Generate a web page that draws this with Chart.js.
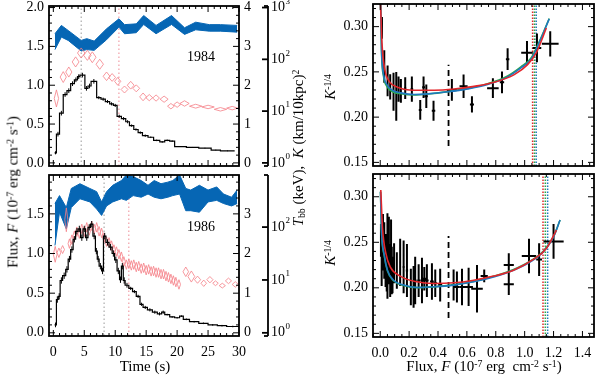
<!DOCTYPE html>
<html>
<head>
<meta charset="utf-8">
<script src="https://cdn.jsdelivr.net/npm/chart.js@4.4.1/dist/chart.umd.min.js"></script>
<style>
body{margin:0;background:#fff;}
#fig{position:relative;width:599px;height:375px;overflow:hidden;font-family:"Liberation Serif","Times New Roman",serif;color:#000;}
#fig canvas{position:absolute;left:0;top:0;}
.t{position:absolute;white-space:nowrap;font-size:15px;line-height:1;}
.v{transform:translate(-50%,-50%) rotate(-90deg);}
.h{transform:translate(-50%,-50%);}
sup{font-size:65%;position:relative;top:-0.45em;vertical-align:baseline;}
sub{font-size:65%;position:relative;top:0.25em;vertical-align:baseline;}
</style>
</head>
<body>
<div id="fig">
<canvas id="c84" width="599" height="375"></canvas>
<canvas id="c86" width="599" height="375"></canvas>
<canvas id="k84" width="599" height="375"></canvas>
<canvas id="k86" width="599" height="375"></canvas>
<div class="t v" style="left:13px;top:192px">Flux, <i>F</i> (10<sup>-7</sup> erg cm<sup>-2</sup> s<sup>-1</sup>)</div>
<div class="t v" style="left:298px;top:148px"><i>T</i><sub>bb</sub> (keV),&nbsp; <i>K</i> (km/10kpc)<sup>2</sup></div>
<div class="t h" style="left:201px;top:57px;font-size:14px">1984</div>
<div class="t h" style="left:201px;top:227px;font-size:14px">1986</div>
<div class="t h" style="left:145px;top:366px">Time (s)</div>
<div class="t h" style="left:484px;top:366px">Flux, <i>F</i> (10<sup>-7</sup> erg&nbsp; cm<sup>-2</sup> s<sup>-1</sup>)</div>
<div class="t v" style="left:330px;top:87px"><i>K</i><sup>-1/4</sup></div>
<div class="t v" style="left:330px;top:253px"><i>K</i><sup>-1/4</sup></div>
</div>
<script>
// 1984 burst: light curve bins (start time, s) and flux (1e-7 erg/cm2/s)
var t84 = [0.2,0.5,1.0,1.6,2.2,2.8,3.4,3.9,4.3,5.1,5.6,6.1,7.0,7.7,8.4,9.1,9.7,10.3,11.0,11.7,12.3,13.0,13.7,14.4,15.3,16.2,17.2,18.0,18.8,19.6,21.5,23.5,25.5,27.0];
var flux84 = [0.13,0.37,0.64,0.88,0.93,1.02,1.07,1.11,1.13,0.96,0.99,1.05,0.84,0.82,0.79,0.76,0.74,0.60,0.57,0.53,0.48,0.43,0.39,0.35,0.33,0.29,0.27,0.29,0.28,0.21,0.20,0.19,0.165,0.155];
var fluxErr84 = [0.02,0.03,0.03,0.03,0.03,0.03,0.03,0.03,0.03,0.03,0.03,0.03,0.02,0.02,0.02,0.02,0.02,0.02,0.02,0.02,0.015,0.015,0.015,0.015,0.01,0.01,0.01,0.01,0.01,0.005,0.005,0.005,0.005,0.005];
var tEnd84 = 29.3;

// 1984 blackbody temperature (keV), half bin width (s), half error (keV)
var tT84 = [0.5,1.6,2.5,3.6,4.5,5.5,6.3,7.5,8.6,9.5,10.4,11.5,12.5,13.4,14.5,15.5,16.6,17.9,19.0,20.0,21.2,23.0,25.0,27.0,28.9];
var T84 = [1.66,2.21,2.34,2.60,2.83,2.77,2.72,2.54,2.23,2.20,2.10,1.89,2.00,1.92,1.70,1.68,1.67,1.64,1.46,1.50,1.53,1.46,1.44,1.38,1.41];
var dtT84 = [0.35,0.5,0.5,0.55,0.6,0.6,0.6,0.6,0.55,0.55,0.5,0.55,0.55,0.55,0.55,0.55,0.55,0.65,0.55,0.55,0.75,1.0,1.0,1.0,0.9];
var dT84 = [0.22,0.14,0.13,0.13,0.13,0.13,0.14,0.13,0.11,0.1,0.1,0.09,0.1,0.09,0.1,0.08,0.08,0.08,0.07,0.07,0.07,0.05,0.045,0.045,0.045];

// 1984 normalisation K (km/10kpc)^2, lower and upper edge of band
var tK84 = [0.26,1.3,2.4,4.5,5.4,6.6,8.6,10.6,11.5,13.4,14.6,16.6,19.1,21.2,23.0,25.2,27.0,29.7];
var K84lo = [154,269,232,145,154,149,239,419,312,327,471,312,471,303,372,350,350,335];
var K84hi = [312,452,361,232,251,225,389,606,468,484,701,452,701,407,522,468,468,452];

// 1986 burst
var t86 = [0.2,0.5,0.8,1.1,1.5,2.0,2.4,2.8,3.2,3.6,4.0,4.4,4.8,5.2,5.6,6.0,6.4,6.8,7.1,7.4,7.8,8.1,8.5,9.0,9.5,9.9,10.3,10.7,11.0,11.3,11.6,12.2,12.8,13.4,14.0,14.5,15.2,16.0,16.8,17.5,18.0,18.8,19.6,20.4,21.0,22.0,23.5,25.0,26.5,28.0];
var flux86 = [0.10,0.42,0.46,0.66,0.72,0.80,0.93,1.05,1.18,1.28,1.31,1.20,1.31,1.20,1.33,1.37,1.22,1.03,0.93,0.84,0.78,1.22,1.14,1.08,1.00,0.92,0.78,0.67,0.84,0.66,0.60,0.56,0.52,0.46,0.36,0.32,0.29,0.26,0.24,0.26,0.23,0.20,0.19,0.21,0.17,0.14,0.12,0.10,0.09,0.08];
var fluxErr86 = [0.03,0.04,0.04,0.04,0.04,0.04,0.04,0.04,0.04,0.04,0.04,0.04,0.04,0.04,0.04,0.04,0.04,0.04,0.04,0.04,0.04,0.04,0.04,0.04,0.04,0.04,0.04,0.04,0.04,0.04,0.03,0.02,0.02,0.02,0.02,0.02,0.02,0.02,0.02,0.02,0.01,0.01,0.01,0.01,0.01,0.01,0.01,0.01,0.01,0.01];
var tEnd86 = 30.0;

var tT86 = [0.3,0.9,1.5,2.1,2.6,3.0,3.4,3.8,4.2,4.6,5.0,5.4,5.8,6.2,6.6,7.0,7.4,7.8,8.2,8.6,9.0,9.4,9.8,10.2,10.6,11.0,11.4,11.8,12.2,12.6,13.0,13.4,13.8,14.2,14.6,15.0,15.4,15.8,16.2,16.6,17.0,17.4,17.8,18.2,18.6,19.0,19.4,19.8,20.3,21.4,22.3,23.3,24.3,25.3,26.2,27.3,28.3,29.4];
var T86 = [1.98,2.02,2.10,2.85,2.25,2.35,2.45,2.55,2.50,2.62,2.55,2.66,2.58,2.70,2.62,2.66,2.56,2.52,2.40,2.30,2.28,2.20,2.10,2.05,1.98,1.92,1.80,1.72,1.74,1.70,1.72,1.66,1.68,1.62,1.64,1.58,1.60,1.55,1.56,1.52,1.52,1.48,1.48,1.43,1.40,1.36,1.32,1.28,1.22,1.54,1.42,1.34,1.25,1.34,1.25,1.19,1.31,1.22];
var dtT86 = [0.3,0.3,0.3,0.25,0.22,0.22,0.22,0.22,0.22,0.22,0.22,0.22,0.22,0.22,0.22,0.22,0.22,0.22,0.22,0.22,0.22,0.22,0.22,0.22,0.22,0.22,0.22,0.22,0.22,0.22,0.22,0.22,0.22,0.22,0.22,0.22,0.22,0.22,0.22,0.22,0.22,0.22,0.22,0.22,0.22,0.22,0.22,0.22,0.25,0.45,0.55,0.5,0.45,0.5,0.45,0.5,0.5,0.5];
var dT86 = [0.2,0.12,0.1,0.3,0.12,0.12,0.12,0.12,0.12,0.12,0.12,0.12,0.12,0.12,0.12,0.12,0.12,0.12,0.12,0.12,0.12,0.12,0.12,0.12,0.12,0.12,0.12,0.12,0.12,0.12,0.12,0.12,0.12,0.12,0.12,0.12,0.12,0.12,0.12,0.12,0.12,0.12,0.12,0.12,0.12,0.12,0.12,0.12,0.12,0.12,0.14,0.09,0.08,0.08,0.06,0.06,0.07,0.07];

var tK86 = [0.26,1.0,2.1,2.9,4.3,5.9,7.0,7.8,8.6,9.6,11.0,11.8,12.9,14.2,15.3,16.3,17.4,18.5,19.3,20.4,21.4,22.2,23.6,25.0,26.4,27.5,28.8,29.7];
var K86lo = [45,191,92,234,343,299,219,166,251,299,343,320,394,367,422,367,343,367,394,422,204,204,191,299,320,279,251,279];
var K86hi = [279,394,234,537,661,537,468,299,468,617,759,966,902,759,617,759,661,708,759,966,537,501,617,501,575,422,367,501];

// marker times (s)
var mark84 = [4.5, 10.6];
var mark86 = [8.2, 12.2];

// K^-1/4 versus flux, 1984
var P84F = [0.012,0.028,0.051,0.069,0.092,0.111,0.127,0.143,0.173,0.219,0.277,0.300,0.319,0.369,0.496,0.577,0.635,0.780,0.843,0.882,1.016,1.085,1.177];
var P84K = [0.2985,0.256,0.240,0.2335,0.228,0.223,0.231,0.229,0.232,0.231,0.208,0.233,0.223,0.207,0.230,0.234,0.214,0.232,0.2385,0.264,0.271,0.2765,0.281];
var P84dK = [0.012,0.018,0.017,0.014,0.021,0.027,0.014,0.013,0.012,0.014,0.011,0.012,0.013,0.011,0.012,0.013,0.009,0.011,0.012,0.012,0.013,0.016,0.014];
var P84dF = [0.003,0.004,0.004,0.005,0.005,0.006,0.006,0.007,0.008,0.009,0.010,0.010,0.011,0.012,0.035,0.028,0.014,0.040,0.015,0.012,0.040,0.030,0.058];

var blue84F = [0.003,0.009,0.023,0.046,0.085,0.143,0.235,0.328,0.467,0.605,0.743,0.882,0.974,1.043,1.10,1.17];
var blue84 = [0.326,0.2746,0.247,0.236,0.2297,0.2268,0.225,0.2257,0.228,0.2312,0.236,0.2445,0.2544,0.2636,0.282,0.3085];
var green84 = [0.326,0.272,0.245,0.234,0.228,0.2258,0.2245,0.2255,0.2282,0.2318,0.2368,0.2455,0.2555,0.265,0.283,0.309];
var red84F = [0.002,0.012,0.032,0.062,0.12,0.235,0.374,0.51,0.65,0.79,0.928,1.02,1.08,1.15];
var red84 = [0.326,0.282,0.2525,0.2396,0.233,0.2297,0.2297,0.231,0.234,0.2385,0.247,0.258,0.271,0.2985];
var touch84 = [1.055, 1.068, 1.08];   // red, green, blue

// K^-1/4 versus flux, 1986
var P86F = [0.005,0.010,0.019,0.028,0.037,0.045,0.050,0.060,0.069,0.075,0.080,0.085,0.096,0.115,0.138,0.162,0.185,0.212,0.231,0.242,0.266,0.289,0.305,0.323,0.358,0.381,0.415,0.508,0.531,0.566,0.612,0.670,0.720,0.890,0.890,1.030,1.100,1.200];
var P86K = [0.252,0.232,0.250,0.241,0.230,0.226,0.235,0.241,0.219,0.240,0.219,0.214,0.227,0.219,0.228,0.223,0.219,0.201,0.201,0.208,0.208,0.208,0.210,0.208,0.207,0.205,0.203,0.203,0.201,0.201,0.201,0.199,0.213,0.225,0.204,0.235,0.231,0.251];
var P86dK = [0.018,0.030,0.031,0.031,0.029,0.030,0.047,0.037,0.029,0.035,0.026,0.020,0.022,0.020,0.026,0.029,0.029,0.020,0.023,0.026,0.018,0.025,0.013,0.018,0.020,0.015,0.018,0.017,0.017,0.020,0.021,0.026,0.007,0.013,0.012,0.019,0.018,0.019];
var P86dF = [0.003,0.003,0.004,0.004,0.004,0.004,0.005,0.005,0.005,0.005,0.005,0.005,0.006,0.006,0.007,0.008,0.008,0.009,0.010,0.010,0.010,0.011,0.011,0.012,0.013,0.013,0.014,0.016,0.016,0.018,0.030,0.040,0.025,0.035,0.035,0.050,0.020,0.070];

var blue86F = [0.002,0.009,0.028,0.05,0.092,0.162,0.254,0.369,0.508,0.647,0.785,0.923,1.04,1.13,1.2,1.245];
var blue86 = [0.3055,0.2634,0.236,0.2194,0.2084,0.203,0.2004,0.2011,0.203,0.2066,0.212,0.2194,0.2286,0.2396,0.256,0.2744];
var green86 = [0.3055,0.262,0.235,0.2185,0.2078,0.2026,0.2002,0.201,0.2032,0.207,0.2126,0.2202,0.2296,0.2405,0.2565,0.2745];
var red86F = [0.004,0.016,0.039,0.069,0.138,0.254,0.369,0.508,0.647,0.785,0.923,1.06,1.15,1.22];
var red86 = [0.3074,0.2653,0.2378,0.2231,0.2129,0.2066,0.2048,0.2055,0.2084,0.2129,0.2194,0.2312,0.2433,0.2634];
var touch86 = [1.127, 1.143, 1.159];

var halfF = 0.473;   // dashed marker

var RED = '#e3262b', GREEN = '#2ba84a', BLUE = '#1f78bf', BAND = '#0666b4', PINK = '#f57f86';

// ---- helpers turning the arrays into point lists
function pairs(x, y) { return x.map(function (v, i) { return {x: v, y: y[i]}; }); }
function steps(t, f, tEnd) {
  var d = pairs(t, f);
  d.push({x: tEnd, y: f[f.length - 1]});
  return d;
}
function errBars(t, f, e, tEnd) {
  var d = [];
  for (var i = 0; i < t.length; i++) {
    var c = (t[i] + (i + 1 < t.length ? t[i + 1] : tEnd)) / 2;
    d.push({x: c, y: f[i] - e[i]}, {x: c, y: f[i] + e[i]}, {x: c, y: null});
  }
  return d;
}
function diamonds(t, T, dt, dT) {
  var d = [];
  for (var i = 0; i < t.length; i++) {
    d.push({x: t[i] - dt[i], y: T[i]}, {x: t[i], y: T[i] + dT[i]}, {x: t[i] + dt[i], y: T[i]},
           {x: t[i], y: T[i] - dT[i]}, {x: t[i] - dt[i], y: T[i]}, {x: t[i], y: null});
  }
  return d;
}
function crosses(F, K, dF, dK) {
  var d = [];
  for (var i = 0; i < F.length; i++) {
    d.push({x: F[i], y: K[i] - dK[i]}, {x: F[i], y: K[i] + dK[i]}, {x: F[i], y: null},
           {x: F[i] - dF[i], y: K[i]}, {x: F[i] + dF[i], y: K[i]}, {x: F[i], y: null});
  }
  return d;
}
function vline(x, y0, y1) { return [{x: x, y: y0}, {x: x, y: y1}]; }

// ---- IDL-like frame: inward ticks on all sides, labels, separate log axis
var idlAxes = {
  id: 'idlAxes',
  afterDraw: function (chart, args, o) {
    var ctx = chart.ctx, a = chart.chartArea;
    function seg(x1, y1, x2, y2) { ctx.beginPath(); ctx.moveTo(x1, y1); ctx.lineTo(x2, y2); ctx.stroke(); }
    function vals(min, max, step) {
      var out = [];
      for (var i = Math.ceil(min / step - 1e-6); i * step <= max + 1e-9; i++) out.push(+(i * step).toFixed(6));
      return out;
    }
    function isMaj(v, m) { return Math.abs(v / m - Math.round(v / m)) < 1e-6; }
    ctx.save();
    ctx.strokeStyle = '#000'; ctx.fillStyle = '#000';
    ctx.lineWidth = 1.8;
    ctx.strokeRect(a.left, a.top, a.right - a.left, a.bottom - a.top);
    ctx.lineWidth = 1;
    ctx.font = '14px "Liberation Serif"';

    var sx = chart.scales.x;
    vals(sx.min, sx.max, o.x.minor).forEach(function (v) {
      var p = sx.getPixelForValue(v), L = isMaj(v, o.x.major) ? 6 : 3;
      seg(p, a.bottom, p, a.bottom - L); seg(p, a.top, p, a.top + L);
    });
    if (o.x.labels) {
      ctx.textAlign = 'center'; ctx.textBaseline = 'middle';
      o.x.labels.forEach(function (v) { ctx.fillText(v.toFixed(o.x.dec), sx.getPixelForValue(v), a.bottom + 16); });
    }

    var sy = chart.scales.y;
    vals(sy.min, sy.max, o.y.minor).forEach(function (v) {
      var p = sy.getPixelForValue(v), L = isMaj(v, o.y.major) ? 6 : 3;
      seg(a.left, p, a.left + L, p);
      if (!o.r) seg(a.right, p, a.right - L, p);
    });
    ctx.textAlign = 'right'; ctx.textBaseline = 'middle';
    o.y.labels.forEach(function (v) { ctx.fillText(v.toFixed(o.y.dec), a.left - 5, sy.getPixelForValue(v)); });

    if (o.r) {
      var sr = chart.scales.yT;
      vals(sr.min, sr.max, o.r.minor).forEach(function (v) {
        var p = sr.getPixelForValue(v), L = isMaj(v, o.r.major) ? 6 : 3;
        seg(a.right, p, a.right - L, p);
      });
      ctx.textAlign = 'left';
      o.r.labels.forEach(function (v) { ctx.fillText(String(v), a.right + 5, sr.getPixelForValue(v)); });
    }
    if (o.k) {
      var sk = chart.scales.yK, x = o.k.x;
      ctx.lineWidth = 1.8;
      seg(x, a.top, x, a.bottom);
      seg(x - 4, a.top, x, a.top); seg(x - 4, a.bottom, x, a.bottom);
      o.k.decades.forEach(function (n) {
        var p = sk.getPixelForValue(Math.pow(10, n));
        seg(x - 6, p, x, p);
        ctx.font = '14px "Liberation Serif"'; ctx.textAlign = 'left'; ctx.textBaseline = 'middle';
        ctx.fillText('10', x + 3, p);
        var w = ctx.measureText('10').width;
        ctx.font = '9px "Liberation Serif"';
        ctx.fillText(String(n), x + 3 + w + 0.5, p - 6);
      });
    }
    ctx.restore();
  }
};
Chart.register(idlAxes);

function baseOpts(pad, scales, axes) {
  return {
    responsive: false, animation: false, events: [],
    layout: {padding: pad},
    plugins: {legend: {display: false}, tooltip: {enabled: false}, idlAxes: axes},
    scales: scales,
    elements: {point: {radius: 0}, line: {tension: 0}}
  };
}

var tMin = -0.7, tMax = 30;

function lightCurve(id, pad, uMin, uMax, d, axes) {
  var scales = {
    x: {type: 'linear', min: tMin, max: tMax, display: false},
    y: {type: 'linear', min: uMin, max: uMax, display: false},
    yT: {type: 'linear', position: 'right', min: 2 * uMin, max: 2 * uMax, display: false},
    yK: {type: 'logarithmic', position: 'right', min: Math.pow(10, 1.5 * uMin), max: Math.pow(10, 1.5 * uMax), display: false}
  };
  var ds = [
    {data: steps(d.t, d.f, d.tEnd), yAxisID: 'y', borderColor: '#000', borderWidth: 1.2, stepped: true, order: 0},
    {data: errBars(d.t, d.f, d.e, d.tEnd), yAxisID: 'y', borderColor: '#000', borderWidth: 1, order: 1},
    {data: diamonds(d.tT, d.T, d.dt, d.dT), yAxisID: 'yT', borderColor: PINK, borderWidth: 0.8, order: 2},
    {data: pairs(d.tK, d.Klo), yAxisID: 'yK', borderColor: BAND, borderWidth: 1, order: 3},
    {data: pairs(d.tK, d.Khi), yAxisID: 'yK', borderColor: BAND, borderWidth: 1, backgroundColor: BAND, fill: '-1', order: 3},
    {data: vline(d.mark[0], uMin, uMax), yAxisID: 'y', borderColor: '#999', borderWidth: 1, borderDash: [1.5, 2.5], order: 5},
    {data: vline(d.mark[1], uMin, uMax), yAxisID: 'y', borderColor: '#ee8a94', borderWidth: 1, borderDash: [1.5, 2.5], order: 5}
  ];
  new Chart(document.getElementById(id), {type: 'line', data: {datasets: ds}, options: baseOpts(pad, scales, axes)});
}

function kPanel(id, pad, d, axes) {
  var scales = {
    x: {type: 'linear', min: -0.05, max: 1.48, display: false},
    y: {type: 'linear', min: 0.146, max: 0.325, display: false}
  };
  var mono = {cubicInterpolationMode: 'monotone', borderWidth: 1.6};
  var ds = [
    Object.assign({data: pairs(d.rF, d.red), borderColor: RED, order: 1}, mono),
    Object.assign({data: pairs(d.bF, d.blue), borderColor: BLUE, order: 2}, mono),
    Object.assign({data: pairs(d.bF, d.green), borderColor: GREEN, order: 3}, mono),
    {data: crosses(d.F, d.K, d.dF, d.dK), borderColor: '#000', borderWidth: 2, order: 4},
    {data: vline(halfF, d.dash[0], d.dash[1]), borderColor: '#000', borderWidth: 1.8, borderDash: [6, 4], order: 5},
    {data: vline(d.touch[0], 0.146, 0.325), borderColor: RED, borderWidth: 1.5, borderDash: [1.5, 1.5], order: 6},
    {data: vline(d.touch[1], 0.146, 0.325), borderColor: GREEN, borderWidth: 1.5, borderDash: [1.5, 1.5], order: 6},
    {data: vline(d.touch[2], 0.146, 0.325), borderColor: BLUE, borderWidth: 1.5, borderDash: [1.5, 1.5], order: 6}
  ];
  new Chart(document.getElementById(id), {type: 'line', data: {datasets: ds}, options: baseOpts(pad, scales, axes)});
}

var xTime = [0, 5, 10, 15, 20, 25, 30];
var xFlux = [0, 0.2, 0.4, 0.6, 0.8, 1.0, 1.2, 1.4];

lightCurve('c84', {left: 49, right: 360, top: 6, bottom: 209}, -0.04, 2.02,
  {t: t84, f: flux84, e: fluxErr84, tEnd: tEnd84, tT: tT84, T: T84, dt: dtT84, dT: dT84,
   tK: tK84, Klo: K84lo, Khi: K84hi, mark: mark84},
  {x: {major: 5, minor: 1, labels: null},
   y: {major: 0.5, minor: 0.1, labels: [0, 0.5, 1, 1.5, 2], dec: 1},
   r: {major: 1, minor: 0.2, labels: [0, 1, 2, 3, 4]},
   k: {x: 268, decades: [0, 1, 2, 3]}});

lightCurve('c86', {left: 49, right: 360, top: 175, bottom: 39}, -0.04, 1.99,
  {t: t86, f: flux86, e: fluxErr86, tEnd: tEnd86, tT: tT86, T: T86, dt: dtT86, dT: dT86,
   tK: tK86, Klo: K86lo, Khi: K86hi, mark: mark86},
  {x: {major: 5, minor: 1, labels: xTime, dec: 0},
   y: {major: 0.5, minor: 0.1, labels: [0, 0.5, 1, 1.5], dec: 1},
   r: {major: 1, minor: 0.2, labels: [0, 1, 2, 3]},
   k: {x: 268, decades: [0, 1, 2]}});

kPanel('k84', {left: 373, right: 5, top: 4, bottom: 209},
  {F: P84F, K: P84K, dF: P84dF, dK: P84dK, bF: blue84F, blue: blue84, green: green84,
   rF: red84F, red: red84, touch: touch84, dash: [0.168, 0.258]},
  {x: {major: 0.2, minor: 0.05, labels: null},
   y: {major: 0.05, minor: 0.01, labels: [0.15, 0.20, 0.25, 0.30], dec: 2}});

kPanel('k86', {left: 373, right: 5, top: 174, bottom: 38},
  {F: P86F, K: P86K, dF: P86dF, dK: P86dK, bF: blue86F, blue: blue86, green: green86,
   rF: red86F, red: red86, touch: touch86, dash: [0.167, 0.257]},
  {x: {major: 0.2, minor: 0.05, labels: xFlux, dec: 1},
   y: {major: 0.05, minor: 0.01, labels: [0.15, 0.20, 0.25, 0.30], dec: 2}});
</script>
</body>
</html>
